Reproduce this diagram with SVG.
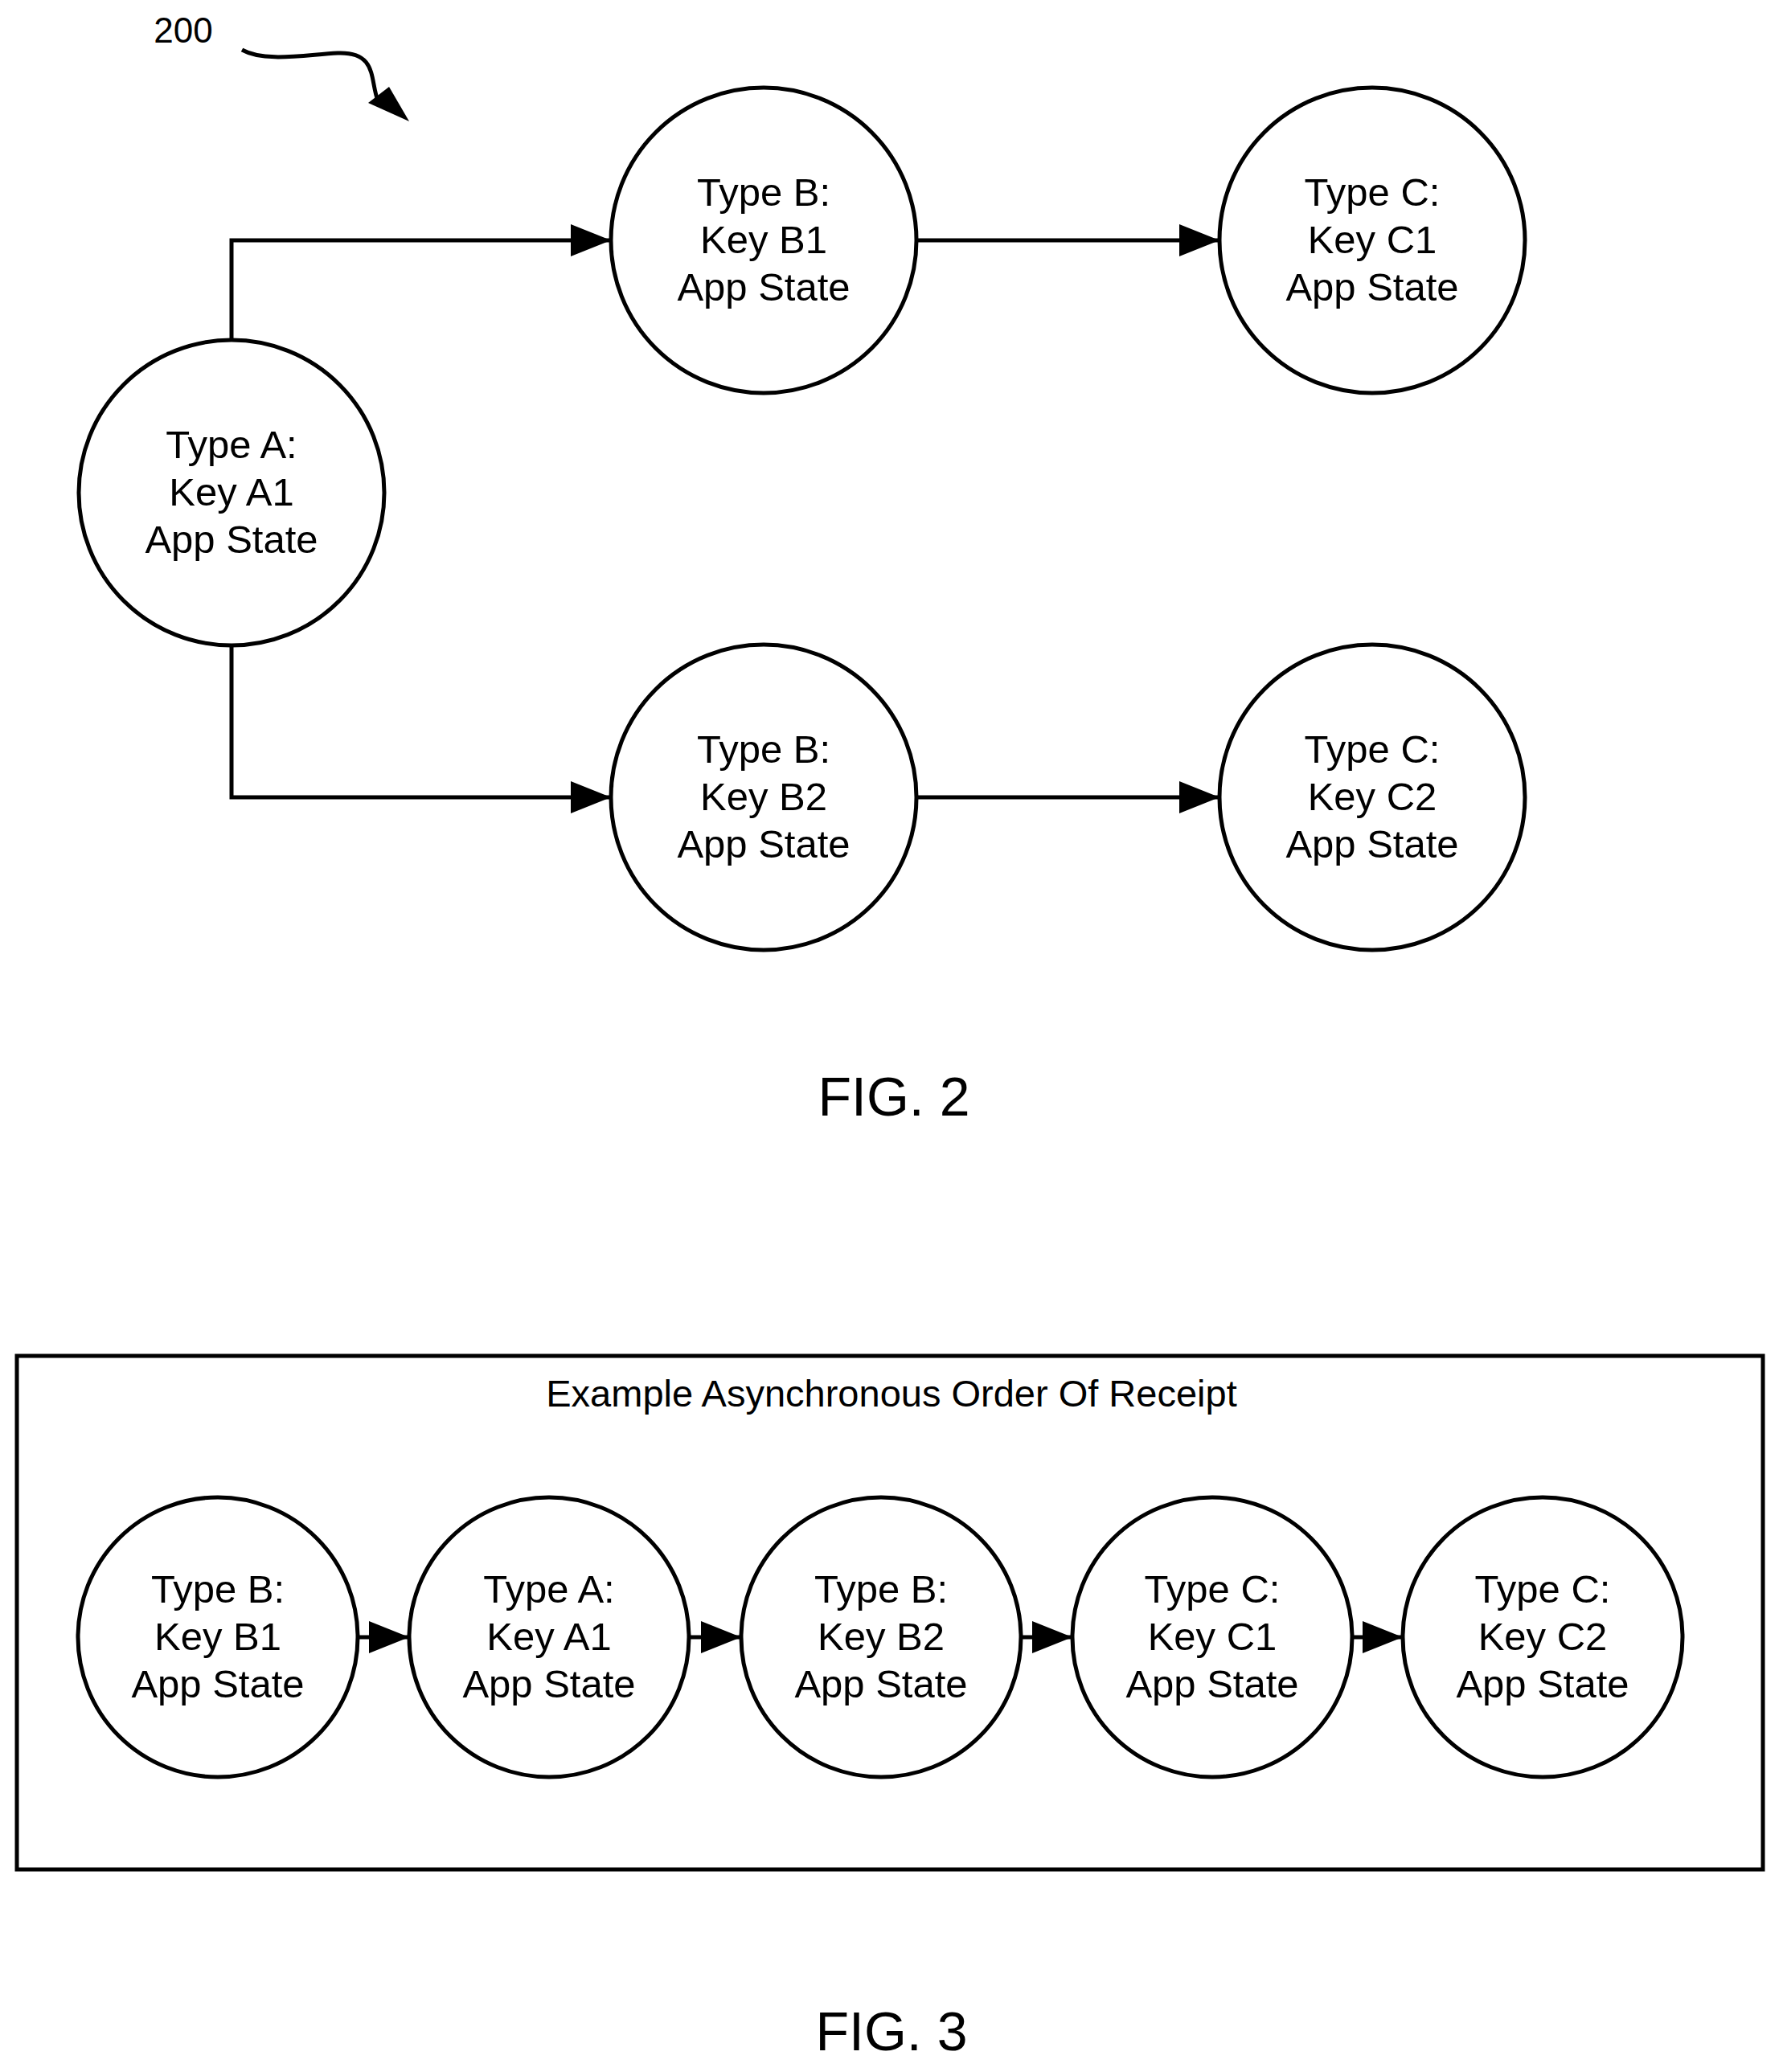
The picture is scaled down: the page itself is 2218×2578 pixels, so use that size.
<svg xmlns="http://www.w3.org/2000/svg" width="2218" height="2578" viewBox="0 0 2218 2578">
<style>
.n{fill:#fff;stroke:#000;stroke-width:5}
.t{font-family:"Liberation Sans",Arial,sans-serif;font-size:49px;text-anchor:middle;fill:#000}
.c{fill:none;stroke:#000;stroke-width:5}
</style>
<defs>
<marker id="ah" markerWidth="10" markerHeight="8" refX="10" refY="4" orient="auto" markerUnits="userSpaceOnUse" viewBox="0 0 10 8">
<path d="M0,0 L10,4 L0,8 Z" fill="#000"/>
</marker>
<marker id="a" viewBox="0 0 10 8" refX="10" refY="4" markerWidth="50" markerHeight="40" markerUnits="userSpaceOnUse" orient="auto"><path d="M0,0 L10,4 L0,8 Z" fill="#000"/></marker>
</defs>
<rect width="2218" height="2578" fill="#fff"/>
<text class="t" x="228" y="53" style="font-size:44px">200</text>
<g id="connectors">
<path class="c" d="M301,62 C330,78 380,68 420,66 C470,64 460,100 470,125" />
<path d="M458,128 L509,151 L484,108 Z" fill="#000"/>
<path class="c" d="M288,423 V299 H760" marker-end="url(#a)"/>
<path class="c" d="M288,803 V992 H760" marker-end="url(#a)"/>
<path class="c" d="M1140,299 H1517" marker-end="url(#a)"/>
<path class="c" d="M1140,992 H1517" marker-end="url(#a)"/>
<path class="c" d="M445,2037 H509" marker-end="url(#a)"/>
<path class="c" d="M857,2037 H922" marker-end="url(#a)"/>
<path class="c" d="M1270,2037 H1334" marker-end="url(#a)"/>
<path class="c" d="M1682,2037 H1745" marker-end="url(#a)"/>
</g>
<g id="nA1"><circle class="n" cx="288" cy="613" r="190"/><text class="t" x="288" y="570">Type A:</text><text class="t" x="288" y="629">Key A1</text><text class="t" x="288" y="688">App State</text></g>
<g id="nB1"><circle class="n" cx="950" cy="299" r="190"/><text class="t" x="950" y="256">Type B:</text><text class="t" x="950" y="315">Key B1</text><text class="t" x="950" y="374">App State</text></g>
<g id="nB2"><circle class="n" cx="950" cy="992" r="190"/><text class="t" x="950" y="949">Type B:</text><text class="t" x="950" y="1008">Key B2</text><text class="t" x="950" y="1067">App State</text></g>
<g id="nC1"><circle class="n" cx="1707" cy="299" r="190"/><text class="t" x="1707" y="256">Type C:</text><text class="t" x="1707" y="315">Key C1</text><text class="t" x="1707" y="374">App State</text></g>
<g id="nC2"><circle class="n" cx="1707" cy="992" r="190"/><text class="t" x="1707" y="949">Type C:</text><text class="t" x="1707" y="1008">Key C2</text><text class="t" x="1707" y="1067">App State</text></g>
<text class="t" x="1112" y="1388" style="font-size:68px">FIG. 2</text>
<g id="box"><rect x="21" y="1687" width="2172" height="639" fill="none" stroke="#000" stroke-width="5"/>
<text class="t" x="1109" y="1750" style="font-size:47px">Example Asynchronous Order Of Receipt</text></g>
<g id="f3n1"><circle class="n" cx="271" cy="2037" r="174"/><text class="t" x="271" y="1994">Type B:</text><text class="t" x="271" y="2053">Key B1</text><text class="t" x="271" y="2112">App State</text></g>
<g id="f3n2"><circle class="n" cx="683" cy="2037" r="174"/><text class="t" x="683" y="1994">Type A:</text><text class="t" x="683" y="2053">Key A1</text><text class="t" x="683" y="2112">App State</text></g>
<g id="f3n3"><circle class="n" cx="1096" cy="2037" r="174"/><text class="t" x="1096" y="1994">Type B:</text><text class="t" x="1096" y="2053">Key B2</text><text class="t" x="1096" y="2112">App State</text></g>
<g id="f3n4"><circle class="n" cx="1508" cy="2037" r="174"/><text class="t" x="1508" y="1994">Type C:</text><text class="t" x="1508" y="2053">Key C1</text><text class="t" x="1508" y="2112">App State</text></g>
<g id="f3n5"><circle class="n" cx="1919" cy="2037" r="174"/><text class="t" x="1919" y="1994">Type C:</text><text class="t" x="1919" y="2053">Key C2</text><text class="t" x="1919" y="2112">App State</text></g>
<text class="t" x="1109" y="2551" style="font-size:68px">FIG. 3</text>
</svg>
